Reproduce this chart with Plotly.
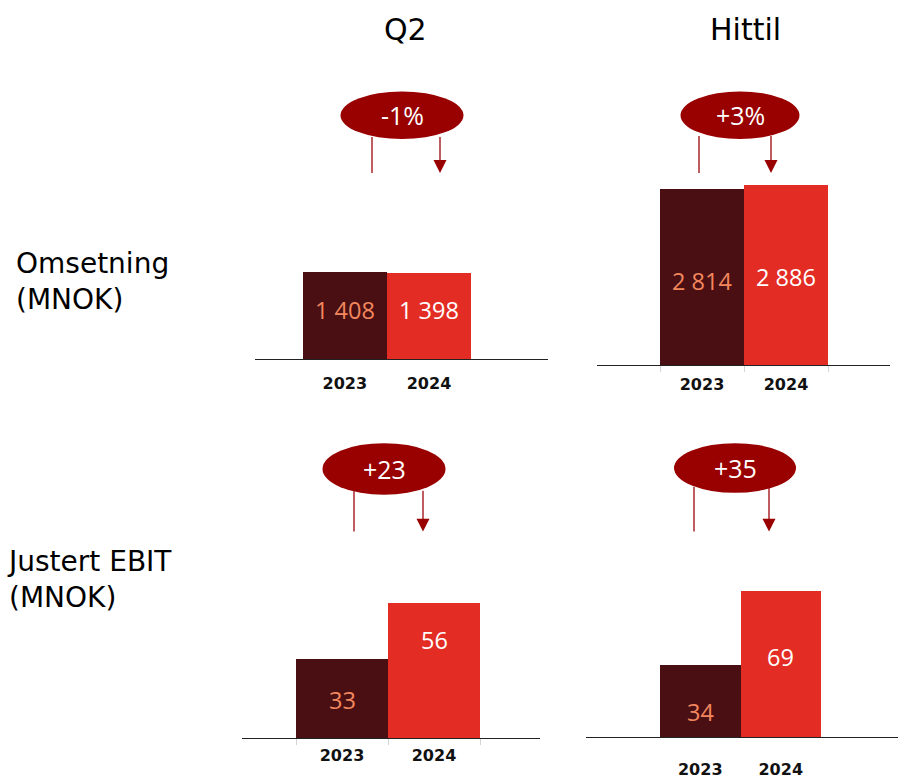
import plotly.graph_objects as go

# ---------------- data ----------------
years = ["2023", "2024"]
omsetning_q2 = [1408, 1398]
omsetning_hittil = [2814, 2886]
ebit_q2 = [33, 56]
ebit_hittil = [34, 69]
column_titles = ["Q2", "Hittil"]
row_titles = ["Omsetning<br>(MNOK)", "Justert EBIT<br>(MNOK)"]

W, H = 899, 779
FONT = "Open Sans"
TITLEFONT = "DejaVu Sans"
TICKFONT = "DejaVu Sans"
C2023 = "#4A0F12"
C2024 = "#E32D24"
ELL = "#990000"
LINEC = "#A8282C"


def X(px):
    return px / W


def Y(py):
    return 1 - py / H


def fmt(v):
    return f"{v:,}".replace(",", " ")


def pct(a, b):
    p = round((b / a - 1) * 100)
    return f"{p:+d}%"


def diff(a, b):
    return f"{b - a:+d}"


# layout of each panel (pixels)
panels = [
    dict(vals=omsetning_q2, chg=pct(*omsetning_q2), ax=(255, 548), bl=302.7, bw=84.2,
         base=361.7, k=16.05, ell=(402, 116, 123, 48), lx=372, rx=440, ly=(138, 174),
         lab_frac=(0.57, 0.57), standoff=9, ticks=False),
    dict(vals=omsetning_hittil, chg=pct(*omsetning_hittil), ax=(597, 890), bl=660, bw=84,
         base=367.7, k=15.87, ell=(740, 116, 119, 48), lx=699, rx=771, ly=(137, 174),
         lab_frac=(0.48, 0.49), standoff=4, ticks=True),
    dict(vals=ebit_q2, chg=diff(*ebit_q2), ax=(242, 540), bl=296, bw=92,
         base=742.7, k=0.415, ell=(384, 472, 123, 52), lx=354, rx=423, ly=(494, 535),
         lab_frac=(0.48, 0.73), standoff=3, ticks=True),
    dict(vals=ebit_hittil, chg=diff(*ebit_hittil), ax=(586, 898), bl=660, bw=80.5,
         base=741.7, k=0.47, ell=(735, 471, 122, 50), lx=694, rx=769, ly=(490, 535),
         lab_frac=(0.35, 0.55), standoff=18, ticks=False),
]

fig = go.Figure()
shapes = []
annotations = []
DOMAIN_TOP = {0: 190, 1: 180, 2: 560, 3: 560}

for i, p in enumerate(panels):
    n = "" if i == 0 else str(i + 1)
    xa, ya = "x" + n, "y" + n
    fig.add_trace(go.Bar(
        x=years, y=p["vals"], xaxis=xa, yaxis=ya,
        marker=dict(color=[C2023, C2024], line=dict(width=0)),
        width=1, showlegend=False, hoverinfo="x+y",
    ))
    l, r = p["ax"]
    x0 = -0.5 - (p["bl"] - l) / p["bw"]
    x1 = 1.5 + (r - (p["bl"] + 2 * p["bw"])) / p["bw"]
    top_px = DOMAIN_TOP[i]
    ymax = (p["base"] - top_px) * p["k"]
    fig.layout["xaxis" + n] = dict(
        domain=[X(l), X(r)], anchor=ya, range=[x0, x1], type="category",
        showline=True, linecolor="#222222", linewidth=1.2, showgrid=False, zeroline=False,
        ticks="outside" if p["ticks"] else "", tickson="boundaries", ticklen=6,
        tickcolor="#d4d4d4", tickwidth=1, ticklabelstandoff=p["standoff"],
        tickfont=dict(family=TICKFONT, size=16, color="#111111", weight="bold"),
        fixedrange=True,
    )
    fig.layout["yaxis" + n] = dict(
        domain=[Y(p["base"]), Y(top_px)], anchor=xa, range=[0, ymax], visible=False,
        fixedrange=True,
    )
    # value labels (x given as category index)
    for j, v in enumerate(p["vals"]):
        annotations.append(dict(
            x=j, y=v * p["lab_frac"][j], xref=xa, yref=ya, text=fmt(v),
            xanchor="center", yanchor="middle",
            showarrow=False, font=dict(family=FONT, size=23.5,
                                       color="#F2875E" if j == 0 else "#FFFFFF"),
        ))
    # connector lines and arrow
    y0, y1 = p["ly"]
    shapes.append(dict(type="line", xref="paper", yref="paper",
                       x0=X(p["lx"]), x1=X(p["lx"]), y0=Y(y0), y1=Y(y1),
                       line=dict(color=LINEC, width=1.5)))
    shapes.append(dict(type="line", xref="paper", yref="paper",
                       x0=X(p["rx"]), x1=X(p["rx"]), y0=Y(y0), y1=Y(y1 - 12),
                       line=dict(color=LINEC, width=1.5)))
    ah, aw = 13, 13
    shapes.append(dict(type="path", xref="paper", yref="paper",
                       path=f"M {X(p['rx'] - aw / 2)} {Y(y1 - ah)} L {X(p['rx'] + aw / 2)} {Y(y1 - ah)} "
                            f"L {X(p['rx'])} {Y(y1)} Z",
                       fillcolor=ELL, line=dict(width=0)))
    # ellipse with change
    cx, cy, ew, eh = p["ell"]
    shapes.append(dict(type="circle", xref="paper", yref="paper",
                       x0=X(cx - ew / 2), x1=X(cx + ew / 2), y0=Y(cy + eh / 2), y1=Y(cy - eh / 2),
                       fillcolor=ELL, line=dict(width=0)))
    annotations.append(dict(x=X(cx), y=Y(cy), xref="paper", yref="paper", text=p["chg"],
                            xanchor="center", yanchor="middle",
                            showarrow=False, font=dict(family=FONT, size=25, color="#FFFFFF")))

# column titles
for t, cx in zip(column_titles, [405, 745]):
    annotations.append(dict(x=X(cx), y=Y(30), xref="paper", yref="paper", text=t,
                            xanchor="center", yanchor="middle",
                            showarrow=False, font=dict(family=TITLEFONT, size=30, color="#000000")))
# row titles
for t, (lx, ty) in zip(row_titles, [(14, 247), (5, 547)]):
    annotations.append(dict(x=X(lx), y=Y(ty), xref="paper", yref="paper", text=t,
                            xanchor="left", yanchor="top", align="left", showarrow=False,
                            font=dict(family=TITLEFONT, size=28, color="#000000")))

fig.update_layout(
    autosize=True, margin=dict(l=0, r=0, t=0, b=0),
    paper_bgcolor="white", plot_bgcolor="rgba(0,0,0,0)",
    bargap=0, shapes=shapes, annotations=annotations,
)

fig.write_html(
    "out.html",
    config={"displayModeBar": False, "responsive": True},
    default_width="100vw",
    default_height="100vh",
    post_script=(
        "document.documentElement.style.margin='0';"
        "document.documentElement.style.overflow='hidden';"
        "document.body.style.margin='0';"
        "document.body.style.overflow='hidden';"
        "var gd=document.getElementById('{plot_id}');"
        "gd.parentNode.style.lineHeight='0';"
        "Plotly.Plots.resize(gd);"
    ),
)
